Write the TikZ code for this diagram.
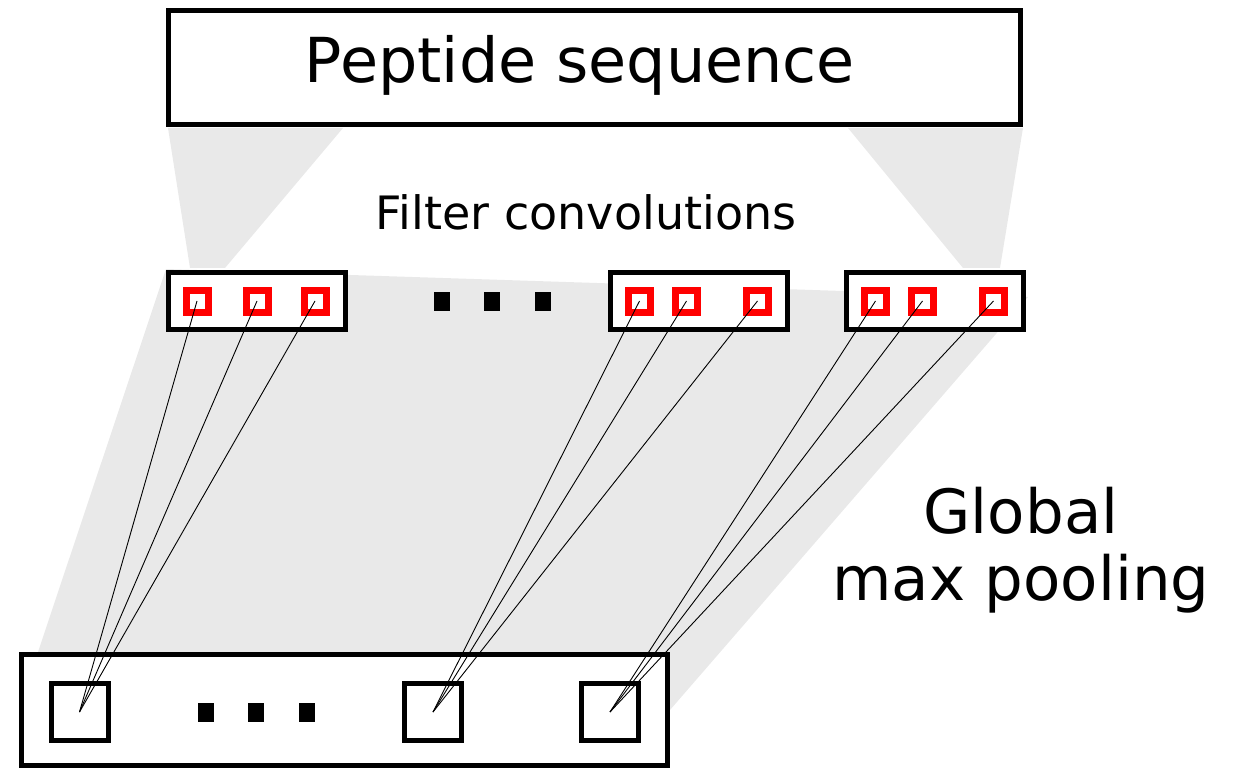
\documentclass[tikz,border=0pt]{standalone}
\usepackage{fontspec}
\setmainfont{DejaVu Sans}
\usetikzlibrary{positioning}
\definecolor{field}{HTML}{E9E9E9}
\definecolor{filt}{HTML}{FF0000}

\begin{document}
\begin{tikzpicture}[x=1pt, y=-1pt, inner sep=0pt, layer/.style={draw, line width=5pt, fill=white}, kernel/.style={draw=filt, line width=7pt, fill=white, minimum size=22pt}, unit/.style={draw, line width=5pt, minimum size=57pt}, dot/.style={fill=black, minimum width=16pt, minimum height=19pt}, wire/.style={line width=0.9pt}]
\useasboundingbox (0,0) rectangle (1240,770);
% receptive fields, drawn first so the boxes sit on top
\fill[field] (168,128) -- (343,128) -- (225,268) -- (190,268) -- cycle;
\fill[field] (848,128) -- (1023,128) -- (1000,268) -- (963,268) -- cycle;
\fill[field] (166,269) -- (1028,297) -- (670,710) -- (38,652) -- cycle;
% input
\node[layer, minimum width=852pt, minimum height=114pt] (seq) at (594.5,67.5) {};
\node[anchor=base, font=\fontsize{62}{72}\selectfont] (seqtxt) at (580,83) {Peptide sequence};
% filter row
\node[anchor=base, font=\fontsize{46}{52}\selectfont] (convtxt) at (586,230) {Filter convolutions};
\node[layer, minimum width=177pt, minimum height=57pt] (f1) at (257,301) {};
\node[layer, minimum width=177pt, minimum height=57pt] (f2) at (698.5,301) {};
\node[layer, minimum width=177pt, minimum height=57pt] (f3) at (934.5,301) {};
\foreach \n/\dx in {a/-60, b/0, c/58}
  \node[kernel] (f1\n) at ([xshift=\dx pt]f1.center) {};
\foreach \f in {2,3}
  \foreach \n/\dx in {a/-59, b/-12, c/59}
    \node[kernel] (f\f\n) at ([xshift=\dx pt]f\f.center) {};
\node[dot] (d1) at (442,301) {};
\node[dot, right=34pt of d1] (d2) {};
\node[dot, right=34pt of d2] (d3) {};
% pooled output
\node[layer, minimum width=646pt, minimum height=111pt] (pool) at (344.5,710) {};
\node[unit] (p1) at (79.5,712) {};
\node[unit] (p2) at (433,712) {};
\node[unit] (p3) at (610,712) {};
\node[dot] (e1) at (206,712) {};
\node[dot, right=34pt of e1] (e2) {};
\node[dot, right=34pt of e2] (e3) {};
\node[anchor=base, align=center, font=\fontsize{61}{67}\selectfont] (pooltxt) at (1021,600) {Global\\max pooling};
% every filter output feeds its pooled unit
\foreach \f in {1,2,3}
  \foreach \n in {a,b,c}
    \draw[wire] (f\f\n.center) -- (p\f.center);
\end{tikzpicture}
\end{document}
